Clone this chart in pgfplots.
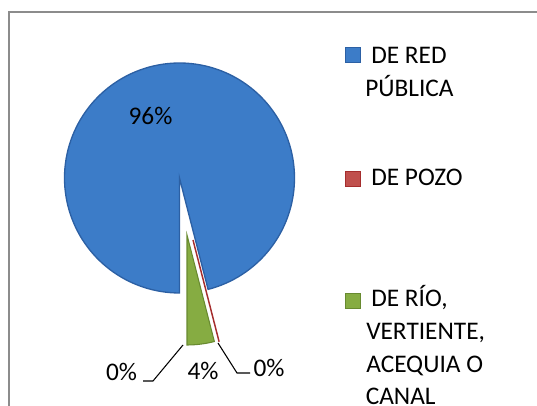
\documentclass[border=0pt]{standalone}
\usepackage{fontspec}
\setmainfont{Carlito}
\usepackage{pgfplots}
\usepackage{pgfplotstable}
\pgfplotsset{compat=1.18}
\definecolor{pieblue}{RGB}{60,124,200}
\definecolor{pieblueedge}{RGB}{44,96,164}
\definecolor{piered}{RGB}{165,45,45}
\definecolor{pieredfill}{RGB}{192,80,77}
\definecolor{piegreen}{RGB}{134,172,66}
\definecolor{piegreenedge}{RGB}{104,138,48}
\definecolor{framegray}{RGB}{140,140,140}
\pgfplotstableread{
idx value
0 96
1 0
2 4
3 0
}\piedata
\begin{document}%
\begin{tikzpicture}[font=\fontsize{19}{24}\selectfont]
\pgfplotstablegetelem{0}{value}\of\piedata\let\vA\pgfplotsretval
\pgfplotstablegetelem{1}{value}\of\piedata\let\vB\pgfplotsretval
\pgfplotstablegetelem{2}{value}\of\piedata\let\vC\pgfplotsretval
\pgfplotstablegetelem{3}{value}\of\piedata\let\vD\pgfplotsretval
\pgfmathsetmacro\aA{270-3.6*\vA}
\pgfmathsetmacro\aB{\aA-3.6*\vB}
\pgfmathsetmacro\aC{\aB-3.6*\vC}
\begin{axis}[hide axis, x=0.75pt, y=0.75pt, xmin=0, xmax=537, ymin=0, ymax=406, clip=false]
% frame
\addplot[draw=framegray, line width=1.3pt] coordinates {(9,-10) (9,394.3) (560,394.3)};
% blue slice
\addplot[fill=pieblue, draw=pieblueedge, line width=1pt, domain=\aA:270, samples=150, variable=\t]
  ({179.5+115*cos(\t)},{228+115*sin(\t)}) -- (axis cs:179.5,228) -- cycle;
% green slice
\addplot[fill=piegreen, draw=piegreenedge, line width=0.8pt, domain=\aC:\aB, samples=10, variable=\t]
  ({187+110*cos(\t)},{171+110*sin(\t)}) -- (axis cs:187,171) -- cycle;
% red slice (0%)
\addplot[piered, line width=1.1pt, domain=0:105, samples=2, variable=\t]
  ({193+\t*cos(\aA)},{166+\t*sin(\aA)});
% leader lines
\addplot[black, line width=0.8pt] coordinates {(143,25) (153,25) (183,61)};
\addplot[black, line width=0.8pt] coordinates {(218,63) (237,33) (250,33)};
% data labels
\node[anchor=base, inner sep=0pt] at (axis cs:150.5,281) {\vA\%};
\node[anchor=base, inner sep=0pt] at (axis cs:203,26) {\vC\%};
\node[anchor=base, inner sep=0pt] at (axis cs:269,29) {\vB\%};
\node[anchor=base, inner sep=0pt] at (axis cs:121.5,25) {\vD\%};
% legend markers
\addplot[only marks, mark=square*, mark size=5.6pt, mark options={fill=pieblue, draw=pieblueedge, line width=0.6pt}] coordinates {(352.5,351.5)};
\addplot[only marks, mark=square*, mark size=5.6pt, mark options={fill=pieredfill, draw=piered, line width=0.6pt}] coordinates {(352.5,227)};
\addplot[only marks, mark=square*, mark size=5.6pt, mark options={fill=piegreen, draw=piegreenedge, line width=0.6pt}] coordinates {(352.5,105.5)};
% legend text
\node[anchor=base west, inner sep=0pt] at (axis cs:371,342.7) {DE RED};
\node[anchor=base west, inner sep=0pt] at (axis cs:365,309.3) {PÚBLICA};
\node[anchor=base west, inner sep=0pt] at (axis cs:371,220.3) {DE POZO};
\node[anchor=base west, inner sep=0pt] at (axis cs:371,99) {DE RÍO,};
\node[anchor=base west, inner sep=0pt] at (axis cs:366,66) {VERTIENTE,};
\node[anchor=base west, inner sep=0pt] at (axis cs:366,33.3) {ACEQUIA O};
\node[anchor=base west, inner sep=0pt] at (axis cs:365.5,1) {CANAL};
\end{axis}
\pgfresetboundingbox
\path[use as bounding box] (current axis.south west) rectangle (current axis.north east);
\end{tikzpicture}%
\end{document}
